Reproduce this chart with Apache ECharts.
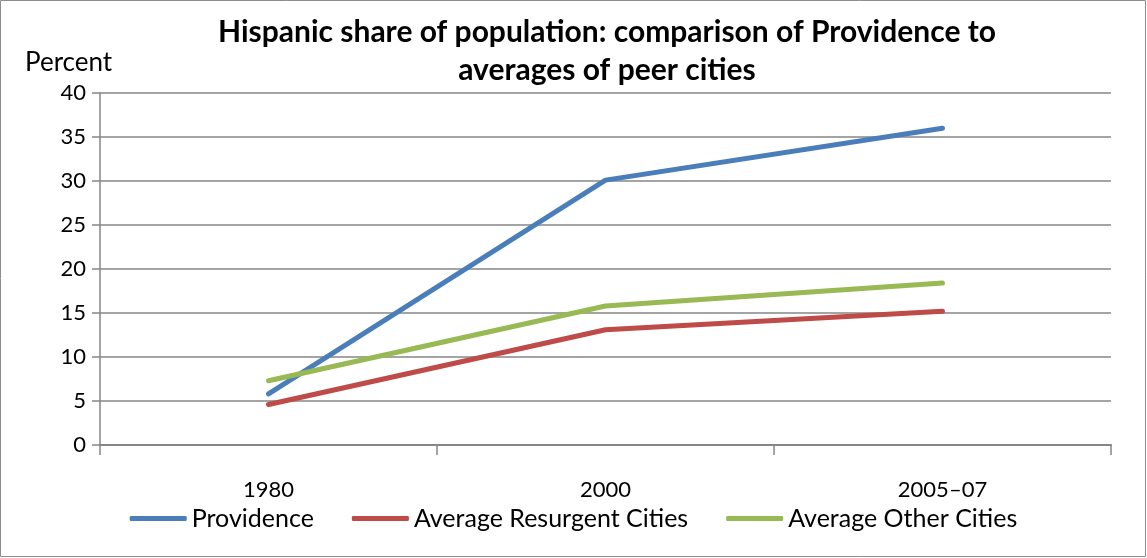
<!DOCTYPE html>
<html>
<head>
<meta charset="utf-8">
<script src="https://cdn.jsdelivr.net/npm/echarts@6/dist/echarts.min.js"></script>
<style>
  html, body { margin: 0; padding: 0; background: #fff; }
  #chart { width: 1147px; height: 558px; }
</style>
</head>
<body>
<div id="chart"></div>
<script>
// chart data
var years = ['1980', '2000', '2005–07'];
var providence = [5.8, 30.1, 36.0];
var resurgent = [4.6, 13.1, 15.2];
var otherCities = [7.3, 15.8, 18.4];
var seriesNames = ['Providence', 'Average Resurgent Cities', 'Average Other Cities'];

var font = 'Lato';
var myChart = echarts.init(document.getElementById('chart'));

var option = {
  animation: false,
  color: ['#4a7ebb', '#be4b48', '#98b954'],
  title: {
    text: 'Hispanic share of population: comparison of Providence to\naverages of peer cities',
    left: 602,
    textAlign: 'center',
    top: 8,
    textStyle: {
      fontFamily: font,
      fontWeight: 'bold',
      fontSize: 30,
      lineHeight: 38,
      color: '#000'
    }
  },
  graphic: [
    {
      type: 'rect',
      shape: { x: 0.5, y: 0.5, width: 1145, height: 556 },
      style: { fill: 'none', stroke: '#8c8c8c', lineWidth: 1 }
    },
    {
      type: 'text',
      left: 25,
      top: 50,
      style: { text: 'Percent', font: '26px ' + font, fill: '#000' }
    }
  ],
  legend: {
    bottom: 22,
    left: 'center',
    itemWidth: 57,
    itemHeight: 5,
    itemGap: 38,
    icon: 'roundRect',
    textStyle: { fontFamily: font, fontSize: 25, color: '#000' },
    data: seriesNames
  },
  grid: {
    left: 100,
    right: 36,
    top: 93,
    bottom: 113
  },
  xAxis: {
    type: 'category',
    data: years,
    boundaryGap: true,
    axisLine: { lineStyle: { color: '#868686', width: 2 } },
    axisTick: { show: true, length: 10, inside: false, lineStyle: { color: '#868686', width: 1.5 } },
    axisLabel: { fontFamily: font, fontSize: 22, color: '#000', margin: 34 }
  },
  yAxis: {
    type: 'value',
    min: 0,
    max: 40,
    interval: 5,
    axisLine: { show: true, lineStyle: { color: '#868686', width: 1.5 } },
    axisTick: { show: true, length: 8, lineStyle: { color: '#868686', width: 1.5 } },
    axisLabel: { fontFamily: font, fontSize: 22, color: '#000', margin: 14 },
    splitLine: { lineStyle: { color: '#868686', width: 1.5 } }
  },
  series: [
    {
      name: seriesNames[0],
      type: 'line',
      data: providence,
      symbol: 'none',
      lineStyle: { width: 5, cap: 'round' }
    },
    {
      name: seriesNames[1],
      type: 'line',
      data: resurgent,
      symbol: 'none',
      lineStyle: { width: 5, cap: 'round' }
    },
    {
      name: seriesNames[2],
      type: 'line',
      data: otherCities,
      symbol: 'none',
      lineStyle: { width: 5, cap: 'round' }
    }
  ]
};

myChart.setOption(option);
</script>
</body>
</html>
